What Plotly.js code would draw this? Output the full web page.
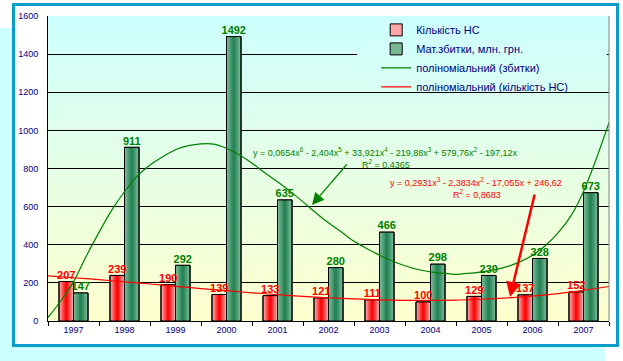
<!DOCTYPE html>
<html>
<head>
<meta charset="utf-8">
<script src="https://cdn.plot.ly/plotly-3.0.1.min.js"></script>
<style>
  html, body { margin:0; padding:0; background:#ffffff; width:623px; height:361px; overflow:hidden; }
  #bg { position:absolute; left:0; top:28px; width:605px; height:333px; background:#ccffff; }
  #frame { position:absolute; left:12px; top:3px; width:601px; height:338px; border:3px solid #0a9dcc; background:#ffffff; }
  #chart { width:601px; height:338px; }
</style>
</head>
<body>
<div id="bg"></div>
<div id="frame"><div id="chart"></div></div>
<script>
// ---- data ----
const years = ['1997','1998','1999','2000','2001','2002','2003','2004','2005','2006','2007'];
const accidents = [207, 239, 190, 139, 133, 121, 111, 100, 129, 137, 152];
const losses = [147, 911, 292, 1492, 635, 280, 466, 298, 239, 328, 673];

// trend lines (x in category-index units, 0 = 1997)
const lossTrendX = [-0.5, -0.25, 0, 0.25, 0.5, 0.75, 1, 1.25, 1.5, 1.75, 2, 2.25, 2.5, 2.75, 3, 3.25, 3.5, 3.75, 4, 4.25, 4.5, 4.75, 5, 5.25, 5.5, 5.75, 6, 6.25, 6.5, 6.75, 7, 7.25, 7.5, 7.75, 8, 8.25, 8.5, 8.75, 9, 9.25, 9.5, 9.75, 10, 10.25, 10.5];
const lossTrendY = [18, 105, 205, 340, 465, 582, 678, 760, 818, 862, 898, 920, 929, 928, 906, 872, 828, 778, 730, 680, 625, 568, 515, 468, 418, 380, 345, 315, 290, 270, 258, 250, 245, 250, 258, 268, 285, 310, 345, 395, 462, 550, 680, 850, 1040];
const accTrendX = [-0.5, 0, 0.5, 1, 1.5, 2, 2.5, 3, 3.5, 4, 4.5, 5, 5.5, 6, 6.5, 7, 7.5, 8, 8.5, 9, 9.5, 10, 10.5];
const accTrendY = [237, 227, 217, 205, 194, 182, 170, 159, 148, 138, 129, 122, 116, 111, 108, 108, 109, 114, 121, 131, 144, 161, 181];

const yTicks = [0, 200, 400, 600, 800, 1000, 1200, 1400, 1600];

const names = ['Кількість НС', 'Мат.збитки, млн. грн.', 'поліноміальний (збитки)', 'поліноміальний (кількість НС)'];
const eqLoss = 'y = 0,0654x<sup>6</sup> - 2,404x<sup>5</sup> + 33,921x<sup>4</sup> - 219,88x<sup>3</sup> + 579,76x<sup>2</sup> - 197,12x';
const r2Loss = 'R<sup>2</sup> = 0,4365';
const eqAcc = 'y = 0,2931x<sup>3</sup> - 2,3834x<sup>2</sup> - 17,055x + 246,62';
const r2Acc = 'R<sup>2</sup> = 0,8683';

// ---- styling ----
const FONT = 'Liberation Sans, Arial, sans-serif';
const NAVY = '#000080';
const BAR_W = 0.285;          // width of one bar in category units
const RED_C = -BAR_W / 2;     // centre offset of red bar
const GREEN_C = BAR_W / 2;    // centre offset of green bar

function mix(a, b, t) {
  return 'rgb(' + a.map((v, k) => Math.round(v + (b[k] - v) * t)).join(',') + ')';
}
function bgColor(t) { return mix([255, 255, 204], [204, 255, 255], t); }

const shapes = [];
const N = 50;
for (let i = 0; i < N; i++) {
  const y0 = i / N, y1 = (i + 1) / N + 0.001;
  shapes.push({type:'rect', xref:'paper', yref:'paper', x0:0, x1:1, y0:y0, y1:y1,
    fillcolor: bgColor((i + 0.5) / N), line:{width:0}, layer:'below'});
}
for (let i = 0; i < N; i++) {
  const y0 = i / N, y1 = (i + 1) / N + 0.001;
  if (y1 < 0.764 || y0 > 0.997) continue;
  shapes.push({type:'rect', xref:'paper', yref:'paper', x0:0.551, x1:0.996,
    y0:Math.max(y0, 0.764), y1:Math.min(y1, 0.997),
    fillcolor: bgColor((i + 0.5) / N), line:{width:0}, layer:'above'});
}
shapes.push({type:'line', xref:'paper', yref:'paper', x0:1, x1:1, y0:0, y1:1, line:{color:'#808080', width:1}});

// gradient bars: stacked layers of decreasing width
function gradientBars(values, centre, edge, core, name) {
  const out = [];
  const L = 5;
  for (let k = 0; k < L; k++) {
    const w = BAR_W * (1 - k / L);
    out.push({type:'bar', x:years, y:values, width:w, offset:centre - w / 2,
      name:name, showlegend:k === 0, legendgroup:name, hoverinfo:'skip',
      marker:{color:mix(edge, core, k / (L - 1)), line:{color:'#000', width:k === 0 ? 1 : 0}}});
  }
  out.push({type:'bar', x:years, y:values, width:BAR_W, offset:centre - BAR_W / 2,
    showlegend:false, legendgroup:name, hoverinfo:'skip',
    marker:{color:'rgba(0,0,0,0)', line:{color:'#000', width:1}}});
  return out;
}

const idx = years.map((_, i) => i);

const traces = [].concat(
  gradientBars(accidents, RED_C, [255, 165, 165], [255, 10, 10], names[0]),
  gradientBars(losses, GREEN_C, [120, 185, 148], [40, 132, 88], names[1]),
  [
    {type:'scatter', mode:'lines', name:names[2], x:lossTrendX, y:lossTrendY, xaxis:'x2', yaxis:'y',
     line:{color:'#008000', width:1.2, shape:'spline', smoothing:0.8}},
    {type:'scatter', mode:'lines', name:names[3], x:accTrendX, y:accTrendY, xaxis:'x2', yaxis:'y',
     line:{color:'#ff0000', width:1.2, shape:'spline', smoothing:0.8}},
    {type:'scatter', mode:'text', x:idx.map(v => v + RED_C), y:accidents, text:accidents.map(String),
     xaxis:'x2', yaxis:'y', textposition:'top center', showlegend:false, cliponaxis:false,
     textfont:{family:FONT, size:11, color:'#ff0000', weight:'bold'}},
    {type:'scatter', mode:'text', x:idx.map(v => v + GREEN_C), y:losses, text:losses.map(String),
     xaxis:'x2', yaxis:'y', textposition:'top center', showlegend:false, cliponaxis:false,
     textfont:{family:FONT, size:11, color:'#008000', weight:'bold'}}
  ]
);

const layout = {
  width:601, height:338,
  margin:{l:33, r:7, t:10, b:23, pad:0},
  paper_bgcolor:'#ffffff', plot_bgcolor:'rgba(0,0,0,0)',
  font:{family:FONT, size:9, color:NAVY},
  barmode:'overlay',
  showlegend:true,
  legend:{x:0.585, y:1.002, xanchor:'left', yanchor:'top', bgcolor:'rgba(0,0,0,0)',
    font:{family:FONT, size:11, color:NAVY}, itemwidth:30, traceorder:'normal', tracegroupgap:0},
  xaxis:{type:'category', tickson:'boundaries', ticks:'outside', ticklen:4, tickcolor:'#000',
    showline:true, linecolor:'#000', linewidth:1, showgrid:false, zeroline:false,
    tickfont:{family:FONT, size:9, color:NAVY}, fixedrange:true},
  xaxis2:{overlaying:'x', range:[-0.5, 10.5], visible:false, fixedrange:true},
  yaxis:{range:[0, 1600], tickvals:yTicks, ticktext:yTicks.map(String), showgrid:true, gridcolor:'#000', gridwidth:1,
    showline:true, linecolor:'#000', linewidth:1, zeroline:false, ticks:'', ticklabelstandoff:7,
    tickfont:{family:FONT, size:9, color:NAVY}, fixedrange:true},
  shapes:shapes,
  annotations:[
    {xref:'paper', yref:'paper', x:0.601, y:0.553, xanchor:'center', yanchor:'middle', text:eqLoss, showarrow:false, font:{family:FONT, size:9, color:'#008000'}},
    {xref:'paper', yref:'paper', x:0.603, y:0.515, xanchor:'center', yanchor:'middle', text:r2Loss, showarrow:false, font:{family:FONT, size:9, color:'#008000'}},
    {xref:'paper', yref:'paper', x:0.763, y:0.457, xanchor:'center', yanchor:'middle', text:eqAcc, showarrow:false, font:{family:FONT, size:9, color:'#ff0000'}},
    {xref:'paper', yref:'paper', x:0.765, y:0.417, xanchor:'center', yanchor:'middle', text:r2Acc, showarrow:false, font:{family:FONT, size:9, color:'#ff0000'}},
    {xref:'paper', yref:'paper', x:(312-48)/561, y:(321-205)/305, ax:36, ay:-42, text:'', showarrow:true,
     arrowhead:2, arrowsize:2, arrowwidth:1.2, arrowcolor:'#008000'},
    {xref:'paper', yref:'paper', x:(510-48)/561, y:(321-297)/305, ax:25, ay:-104, text:'', showarrow:true,
     arrowhead:2, arrowsize:1.2, arrowwidth:2.5, arrowcolor:'#ff0000'}
  ]
};

Plotly.newPlot('chart', traces, layout, {displayModeBar:false, staticPlot:true});
</script>
</body>
</html>
